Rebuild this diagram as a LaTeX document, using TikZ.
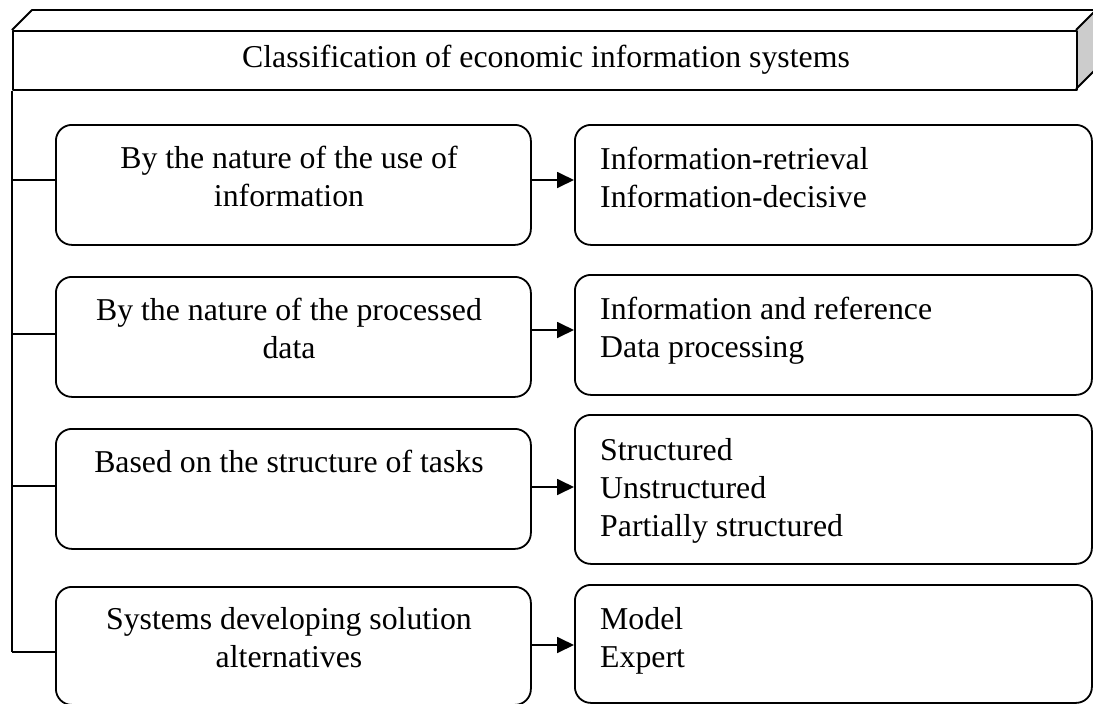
\documentclass[tikz,border=0pt]{standalone}
\usepackage{fontspec}
\setmainfont{Liberation Serif}
\usetikzlibrary{arrows.meta}
\definecolor{sidegray}{HTML}{CCCCCC}
\begin{document}
\begin{tikzpicture}[x=1pt,y=-1pt,
  frame/.style={draw, line width=1.8pt, line join=round},
  rbox/.style={draw, line width=1.8pt, rounded corners=16pt, anchor=north west, inner sep=0pt},
  lbl/.style={font=\fontsize{31.8}{38}\selectfont, inner sep=0pt},
  link/.style={line width=1.8pt},
  arr/.style={line width=1.8pt, -{Triangle[length=17pt,width=16pt]}}]
\useasboundingbox (0,0) rectangle (1093,704);

% 3D header block
\fill[sidegray] (1076,30) -- (1096,10) -- (1096,69) -- (1076,89) -- cycle;
\draw[frame] (1076,30) -- (1096,10) -- (1096,69) -- (1076,89);
\draw[frame] (12,30) -- (32,10) -- (1096,10);
\node[frame, minimum width=1064pt, minimum height=59pt, anchor=north west, inner sep=0pt] (head) at (12,30) {};
\node[lbl, anchor=base] (title) at (546,67) {Classification of economic information systems};

% left boxes
\node[rbox, minimum width=475pt, minimum height=120pt] (L1) at (55,124) {};
\node[rbox, minimum width=475pt, minimum height=120pt] (L2) at (55,276) {};
\node[rbox, minimum width=475pt, minimum height=120pt] (L3) at (55,428) {};
\node[rbox, minimum width=475pt, minimum height=118pt] (L4) at (55,586) {};

% right boxes
\node[rbox, minimum width=517pt, minimum height=120pt] (R1) at (574,124) {};
\node[rbox, minimum width=517pt, minimum height=120pt] (R2) at (574,274) {};
\node[rbox, minimum width=517pt, minimum height=149pt] (R3) at (574,414) {};
\node[rbox, minimum width=517pt, minimum height=118pt] (R4) at (574,584) {};

% texts (base anchor = baseline of the last line)
\node[lbl, anchor=base, align=center] (l1) at (289,206) {By the nature of the use of\\information};
\node[lbl, anchor=base, align=center] (l2) at (289,358) {By the nature of the processed\\data};
\node[lbl, anchor=base, align=center] (l3) at (289,472) {Based on the structure of tasks};
\node[lbl, anchor=base, align=center] (l4) at (289,667) {Systems developing solution\\alternatives};

\node[lbl, anchor=base west, align=left] (r1) at (600,207) {Information-retrieval\\Information-decisive};
\node[lbl, anchor=base west, align=left] (r2) at (600,357) {Information and reference\\Data processing};
\node[lbl, anchor=base west, align=left] (r3) at (600,536) {Structured\\Unstructured\\Partially structured};
\node[lbl, anchor=base west, align=left] (r4) at (600,667) {Model\\Expert};

% trunk and branches
\coordinate (tb) at (12,652);
\draw[link] (head.south west) -- (tb);
\coordinate (t1) at (12,180);
\coordinate (t2) at (12,334);
\coordinate (t3) at (12,486);
\draw[link] (t1) -- (t1 -| L1.west);
\draw[link] (t2) -- (t2 -| L2.west);
\draw[link] (t3) -- (t3 -| L3.west);
\draw[link] (tb) -- (tb -| L4.west);

% arrows
\coordinate (a1) at (0,180);
\coordinate (a2) at (0,330);
\coordinate (a3) at (0,487);
\coordinate (a4) at (0,645);
\draw[arr] (L1.east |- a1) -- (R1.west |- a1);
\draw[arr] (L2.east |- a2) -- (R2.west |- a2);
\draw[arr] (L3.east |- a3) -- (R3.west |- a3);
\draw[arr] (L4.east |- a4) -- (R4.west |- a4);
\end{tikzpicture}
\end{document}
